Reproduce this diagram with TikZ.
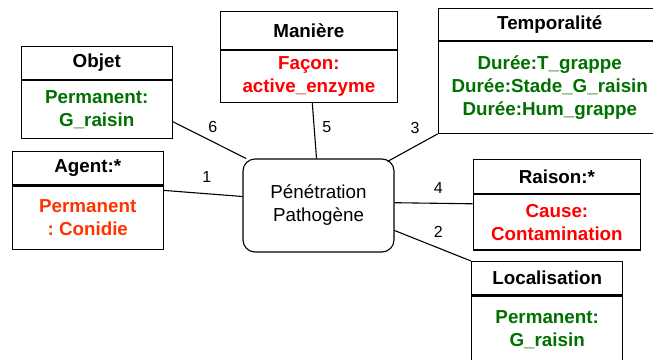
\documentclass[tikz,border=0pt]{standalone}
\usepackage{fontspec}
\setmainfont{Liberation Sans}
\usetikzlibrary{positioning}
\frenchspacing
\definecolor{attgreen}{RGB}{0,112,0}
\definecolor{attred}{RGB}{255,0,0}
\definecolor{attorange}{RGB}{255,51,0}
\tikzset{
  conc/.style={draw, line width=1.1pt, inner sep=0pt, anchor=north west,
    minimum height=33pt, font=\fontsize{18.8}{23}\selectfont\bfseries},
  attr/.style={draw, line width=1.1pt, inner sep=0pt, align=center,
    font=\fontsize{18.8}{23}\selectfont\bfseries},
  act/.style={draw, line width=1.1pt, rounded corners=12pt, align=center,
    minimum width=151pt, minimum height=93pt, inner sep=0pt,
    font=\fontsize{18.8}{23}\selectfont},
  link/.style={line width=1.1pt},
  lbl/.style={font=\fontsize{16}{18}\selectfont, inner sep=0pt}
}
\begin{document}
\begin{tikzpicture}[x=1pt,y=-1pt]
    \useasboundingbox (0,0) rectangle (653,359);
    \clip (0,0) rectangle (653,359);
    % central action
    \node[act] (pen) at (318.5,205.5) {Pénétration\\Pathogène};
    % objet
    \node[conc, minimum width=151pt] (objh) at (20.7,46) {Objet};
    \node[attr, minimum width=151pt, minimum height=58pt, text=attgreen,
      below=0pt of objh] (objb) {Permanent:\\G\_raisin};
    % agent
    \node[conc, minimum width=151pt, minimum height=33.6pt] (agh) at (11.7,150.7) {Agent:*};
    \node[attr, minimum width=151pt, minimum height=63.7pt, text=attorange,
      below=0pt of agh] (agb) {Permanent\\: Conidie};
    % maniere
    \node[conc, minimum width=176.7pt, minimum height=37.7pt] (manh) at (220,11) {Manière};
    \node[attr, minimum width=176.7pt, minimum height=52.3pt, text=attred,
      below=0pt of manh] (manb) {Façon:\\active\_enzyme};
    % temporalite
    \node[conc, minimum width=223pt, minimum height=32.3pt] (temph) at (437.7,7.7) {Temporalité};
    \node[attr, minimum width=223pt, minimum height=91.7pt, text=attgreen,
      below=0pt of temph] (tempb) {Durée:T\_grappe\\Durée:Stade\_G\_raisin\\Durée:Hum\_grappe};
    % raison
    \node[conc, minimum width=167.3pt, minimum height=33.4pt] (raih) at (472.7,159.3) {Raison:*};
    \node[attr, minimum width=167.3pt, minimum height=55.6pt, text=attred,
      below=0pt of raih] (raib) {Cause:\\Contamination};
    % localisation
    \node[conc, minimum width=151.3pt, minimum height=33.3pt] (loch) at (471,261) {Localisation};
    \node[attr, minimum width=151.3pt, minimum height=68pt, text=attgreen,
      below=0pt of loch] (locb) {Permanent:\\G\_raisin};
    % links
    \draw[link] ([yshift=-12pt]objb.east) -- (pen.147);
    \draw[link] ([yshift=-5pt]agb.north east) -- ([yshift=9pt]pen.west);
    \draw[link] ([xshift=3.4pt]manb.south) -- ([xshift=-2pt]pen.north);
    \draw[link] (tempb.south west) -- ([xshift=-7pt,yshift=-3pt]pen.north east);
    \draw[link] ([yshift=2.8pt]pen.east) -- ([yshift=-10pt]raib.north west);
    \draw[link] ([yshift=-25pt]pen.east) -- (loch.north west);
    % numbers
    \node[lbl] (n6) at (212.7,127) {6};
    \node[lbl] (n1) at (206.7,176.7) {1};
    \node[lbl] (n5) at (326.7,126.7) {5};
    \node[lbl] (n3) at (415,128.3) {3};
    \node[lbl] (n4) at (438.3,188.3) {4};
    \node[lbl] (n2) at (438.3,231.7) {2};
\end{tikzpicture}
\end{document}
